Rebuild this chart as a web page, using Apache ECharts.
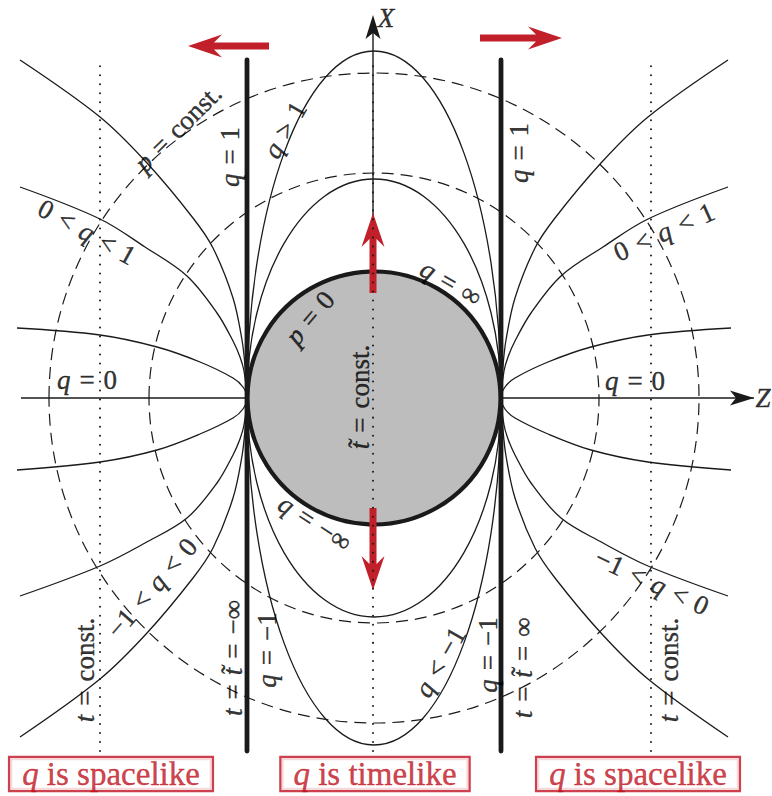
<!DOCTYPE html>
<html><head><meta charset="utf-8">
<script src="https://cdn.jsdelivr.net/npm/echarts@6/dist/echarts.min.js"></script>
<style>html,body{margin:0;padding:0;background:#fff}#c{width:772px;height:796px}</style>
</head><body><div id="c"></div>
<script>
// ---------- data (units = pixels of the reference, origin at the centre of the disk, y up) ----------
const poleX = 127;                       // the two poles / thick lines q = ±1
const diskRadius = 126.5;                // q = ±∞ , p = 0
const ellipseSemiAxesY = [219, 347];     // q > 1 and q < -1 ellipses
const dashedRadii = [225, 325];          // p = const.
const thickLineX = [-127, 127];
const dottedLineX = [-274, -1, 277];     // t = const. and t~ = const.
const lineYRange = [-353, 338];
// outer q-curves, left side (far end -> pole); upper and lower branches
const curveAUpper = [[-354,338],[-274,281],[-227,235],[-181,180],[-161,150],[-141,100],[-132,58],[-129,32],[-127,0]];
const curveALower = [[-354,-339],[-274,-281],[-227,-235],[-181,-180],[-161,-150],[-141,-100],[-132,-58],[-129,-32],[-127,0]];
const curveBUpper = [[-354,211],[-274,179],[-229,151],[-187,122],[-157,85],[-141,57],[-134,41],[-130,27],[-127,0]];
const curveBLower = [[-354,-198],[-274,-168],[-229,-145],[-187,-120],[-157,-85],[-141,-57],[-134,-41],[-130,-27],[-127,0]];
const curveCUpper = [[-357,70],[-274,63],[-217,51],[-174,36],[-141,20],[-131,11],[-127,0]];
const curveCLower = [[-357,-72],[-274,-64],[-217,-52],[-174,-36],[-141,-20],[-131,-11],[-127,0]];
const zAxisSegments = [[-353,-127],[127,380]];
const xAxisSegment = [126, 383];
const redArrows = [[-105,352,-186,352],[106,360,188,360],[-1,105,-1,185],[-1,-110,-1,-192]];
const axisArrowHeads = [[-1,360,-1,383],[357,0,380,0]];
const S = '\u2004'; // relation spacing
const labelTexts = ['{i|X}','{i|Z}','{i|p}'+S+'='+S+'const.','{i|q}'+S+'='+S+'1','{i|q}'+S+'='+S+'1','{i|q}'+S+'>'+S+'1',
  '0'+S+'<'+S+'{i|q}'+S+'<'+S+'1','0'+S+'<'+S+'{i|q}'+S+'<'+S+'1','{i|q}'+S+'='+S+'0','{i|q}'+S+'='+S+'0',
  '{i|p}'+S+'='+S+'0','{i|q}'+S+'='+S+'∞',
  '{i|t\u0303}'+S+'='+S+'const.','{i|q}'+S+'='+S+'−∞','−1'+S+'<'+S+'{i|q}'+S+'<'+S+'0','−1'+S+'<'+S+'{i|q}'+S+'<'+S+'0',
  '{i|q}'+S+'<'+S+'−1','{i|q}'+S+'='+S+'−1','{i|q}'+S+'='+S+'−1',
  '{i|t}'+S+'='+S+'{i|t\u0303}'+S+'='+S+'−∞','{i|t}'+S+'='+S+'{i|t\u0303}'+S+'='+S+'∞',
  '{i|t}'+S+'='+S+'const.','{i|t}'+S+'='+S+'const.'];
const labelAnchors = [[12,380],[389,0],[-196,270],[-144,241],[145,245],[-89,268],
  [-287,166],[290,166],[-287,18],[261,17],[-64,80],[77,115],
  [-14,1],[-59,-125],[-222,-190],[278,-184],[66,-264],
  [-107,-252],[114,-257],[-141,-260],[149,-270],[-289,-272],[295,-272]];
const labelAngles = [0,0,45,90,90,60,-29,24,0,0,50,-30,90,-33,49,-25,60,90,90,90,90,90,90];
const boxTexts = ['{i|q} is spacelike','{i|q} is timelike','{i|q} is spacelike'];
const boxAnchors = [[-263,-376],[1,-376],[264,-376]];

// ---------- build ----------
const INK = '#1a1a1a', RED = '#bf1220', FONT = 'Liberation Serif';
function join(up, low){ return up.concat(low.slice(0,-1).reverse()); }
function mirrorX(c){ return c.map(p=>[-p[0],p[1]]); }
const curveSeries = [];
[[curveAUpper,curveALower],[curveBUpper,curveBLower],[curveCUpper,curveCLower]].forEach(pair=>{
  const left = join(pair[0], pair[1]);
  [left, mirrorX(left)].forEach(d=>curveSeries.push({
    type:'line', data:d, smooth:0.35, symbol:'none', z:2, silent:true,
    lineStyle:{color:INK,width:1.3}
  }));
});
const lineSeg = (pts, style, z)=>({type:'line', data:pts, symbol:'none', z:z, silent:true, lineStyle:style});

const series = [];
series.push({type:'custom', z:1, silent:true, data:dashedRadii.map(r=>[r,r]),
  renderItem:(p,api)=>{const c=api.coord([0,0]); const s=api.size([api.value(0),api.value(1)]);
    return {type:'ellipse', shape:{cx:c[0],cy:c[1],rx:s[0],ry:s[1]},
      style:{fill:'none',stroke:INK,lineWidth:1.2,lineDash:[12,7]}};}});
series.push(...curveSeries);
series.push({type:'custom', z:2, silent:true, data:ellipseSemiAxesY.map(b=>[poleX,b]),
  renderItem:(p,api)=>{const c=api.coord([0,0]); const s=api.size([api.value(0),api.value(1)]);
    return {type:'ellipse', shape:{cx:c[0],cy:c[1],rx:s[0],ry:s[1]},
      style:{fill:'none',stroke:INK,lineWidth:1.3}};}});
thickLineX.forEach(x=>series.push(lineSeg([[x,lineYRange[0]],[x,lineYRange[1]]],{color:INK,width:4.8,cap:'round'},3)));
series.push({type:'custom', z:4, silent:true, data:[[diskRadius,diskRadius]],
  renderItem:(p,api)=>{const c=api.coord([0,0]); const s=api.size([api.value(0),api.value(1)]);
    return {type:'circle', shape:{cx:c[0],cy:c[1],r:s[0]},
      style:{fill:'#bdbdbd',stroke:INK,lineWidth:4.2}};}});
zAxisSegments.forEach(s=>series.push(lineSeg([[s[0],0],[s[1],0]],{color:INK,width:1.4},5)));
series.push(lineSeg([[-1,xAxisSegment[0]],[-1,xAxisSegment[1]-4]],{color:INK,width:1.4},5));
function arrowPoly(api, v, w, L, H, notch){
  const a=api.coord([v[0],v[1]]), b=api.coord([v[2],v[3]]);
  const dx=b[0]-a[0], dy=b[1]-a[1], len=Math.hypot(dx,dy), ux=dx/len, uy=dy/len, nx=-uy, ny=ux;
  const P=(u,t)=>[a[0]+ux*u+nx*t, a[1]+uy*u+ny*t];
  return [P(0,-w/2),P(len-L+notch,-w/2),P(len-L,-H),P(len,0),P(len-L,H),P(len-L+notch,w/2),P(0,w/2)];
}
series.push({type:'custom', z:5, silent:true, data:axisArrowHeads,
  renderItem:(p,api)=>({type:'polygon', shape:{points:arrowPoly(api,[api.value(0),api.value(1),api.value(2),api.value(3)],0,24,7.5,6)},
    style:{fill:INK}})});
series.push({type:'custom', z:6, silent:true, data:redArrows,
  renderItem:(p,api)=>({type:'polygon', shape:{points:arrowPoly(api,[api.value(0),api.value(1),api.value(2),api.value(3)],7,34,11.5,8)},
    style:{fill:'#c1202b'}})});
dottedLineX.forEach(x=>series.push(lineSeg([[x,lineYRange[0]],[x,lineYRange[1]]],{color:INK,width:2,type:[0.01,9],cap:'round'},7)));
const rich = {i:{fontFamily:FONT,fontStyle:'italic',fontSize:27,color:'#000',textBorderColor:'#000',textBorderWidth:0.4}};
series.push({type:'scatter', z:8, symbolSize:0, silent:true,
  data:labelTexts.map((t,k)=>({value:labelAnchors[k], label:{formatter:t, rotate:labelAngles[k]}})),
  label:{show:true, position:'inside', fontFamily:FONT, fontSize:27, color:'#000', textBorderColor:'#000', textBorderWidth:0.4, rich:rich}});
const richR = {i:{fontFamily:FONT,fontStyle:'italic',fontSize:33,color:RED,textBorderColor:RED,textBorderWidth:0.4}};
series.push({type:'scatter', z:8, symbolSize:0, silent:true,
  data:boxTexts.map((t,k)=>({value:boxAnchors[k], label:{formatter:t}})),
  label:{show:true, position:'inside', fontFamily:FONT, fontSize:33, lineHeight:30, color:RED,
    textBorderColor:RED, textBorderWidth:0.4, rich:richR,
    borderColor:RED, borderWidth:2.2, padding:[1,12,1,12], backgroundColor:'#fff'}});

const chart = echarts.init(document.getElementById('c'), null, {renderer:'svg'});
chart.setOption({
  animation:false,
  grid:{left:0,right:0,top:0,bottom:0},
  xAxis:{type:'value',min:-374,max:398,show:false},
  yAxis:{type:'value',min:-398,max:398,show:false},
  series:series
});
</script></body></html>
